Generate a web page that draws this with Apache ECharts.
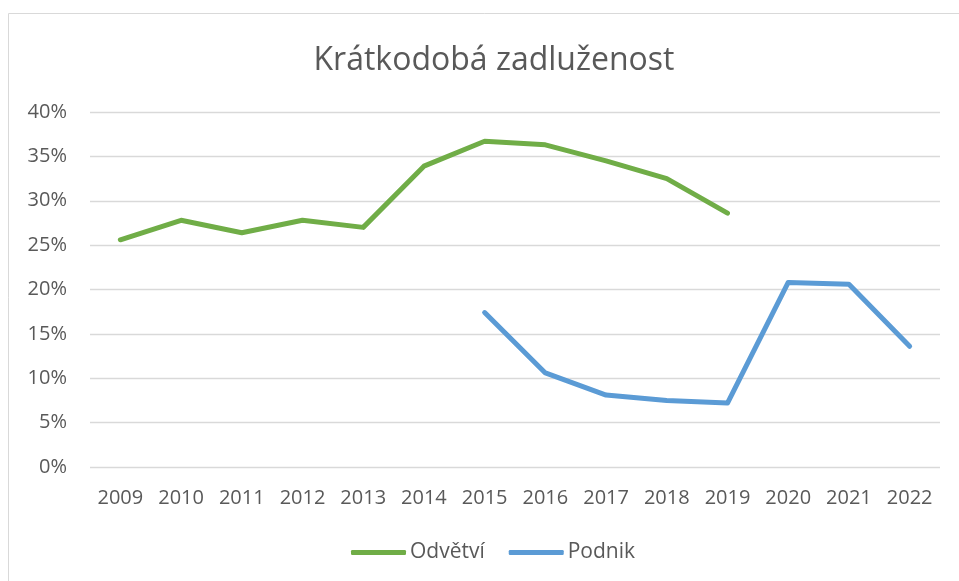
<!DOCTYPE html>
<html>
<head>
<meta charset="utf-8">
<script src="https://cdn.jsdelivr.net/npm/echarts@6/dist/echarts.min.js"></script>
<style>
  html, body { margin: 0; padding: 0; background: #fff; }
  #chart { width: 959px; height: 581px; }
</style>
</head>
<body>
<div id="chart"></div>
<script>
var years = ['2009', '2010', '2011', '2012', '2013', '2014', '2015', '2016', '2017', '2018', '2019', '2020', '2021', '2022'];
var odvetvi = [25.6, 27.8, 26.4, 27.8, 27.0, 33.9, 36.7, 36.3, 34.5, 32.5, 28.6, null, null, null];
var podnik = [null, null, null, null, null, null, 17.4, 10.6, 8.1, 7.5, 7.2, 20.8, 20.6, 13.6];

var myChart = echarts.init(document.getElementById('chart'));
var font = '"Open Sans", "Noto Sans", sans-serif';

option = {
    animation: false,
    textStyle: { fontFamily: font },
    graphic: [{
        type: 'rect',
        shape: { x: 8.5, y: 13.5, width: 1000, height: 700 },
        style: { fill: 'none', stroke: '#d9d9d9', lineWidth: 1 },
        silent: true
    }],
    title: {
        text: 'Krátkodobá zadluženost',
        left: 489, top: 40, textAlign: 'center',
        textStyle: { color: '#595959', fontSize: 32, fontWeight: 'normal', fontFamily: font }
    },
    legend: {
        data: ['Odvětví', 'Podnik'],
        bottom: 13, left: 346,
        itemWidth: 55, itemHeight: 5, itemGap: 24,
        icon: 'roundRect',
        textStyle: { color: '#595959', fontSize: 21, fontFamily: font, padding: [0, 0, 0, -1] }
    },
    grid: { left: 90, right: 19, top: 112, bottom: 114, containLabel: false },
    xAxis: {
        type: 'category',
        data: years,
        boundaryGap: true,
        axisLine: { show: false },
        axisTick: { show: false },
        axisLabel: { color: '#595959', fontSize: 20, margin: 21, fontFamily: font }
    },
    yAxis: {
        type: 'value',
        min: 0, max: 40, interval: 5,
        axisLine: { show: false },
        axisTick: { show: false },
        axisLabel: { color: '#595959', fontSize: 20, margin: 23, formatter: '{value}%', fontFamily: font },
        splitLine: { lineStyle: { color: '#d9d9d9', width: 1.3 } }
    },
    series: [
        {
            name: 'Odvětví', type: 'line', data: odvetvi,
            symbol: 'none', connectNulls: false,
            lineStyle: { color: '#70ad47', width: 5, cap: 'round', join: 'round' },
            itemStyle: { color: '#70ad47' }
        },
        {
            name: 'Podnik', type: 'line', data: podnik,
            symbol: 'none', connectNulls: false,
            lineStyle: { color: '#5b9bd5', width: 5, cap: 'round', join: 'round' },
            itemStyle: { color: '#5b9bd5' }
        }
    ]
};

myChart.setOption(option);
window.addEventListener('resize', function () {
    myChart.resize();
});
</script>
</body>
</html>
